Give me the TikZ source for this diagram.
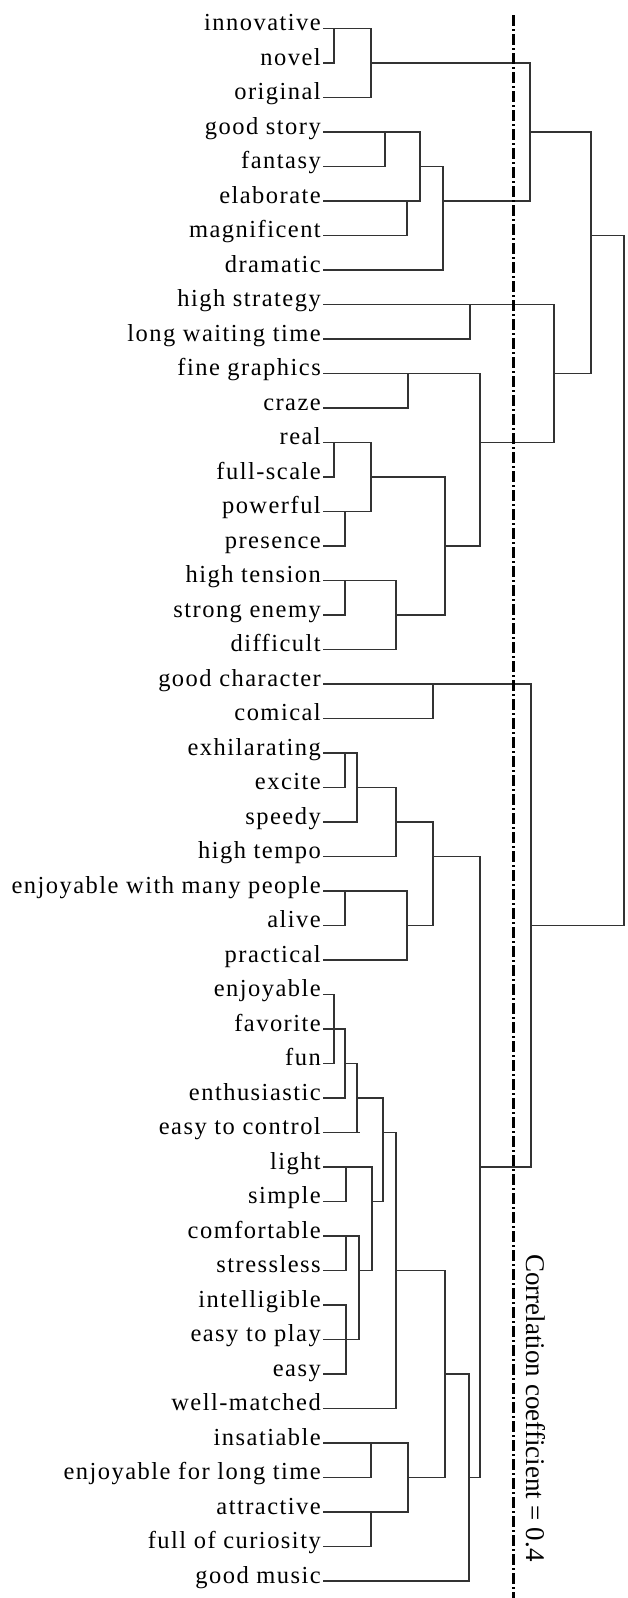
\documentclass[tikz,border=0pt]{standalone}
\usepackage{fontspec}
\setmainfont{Liberation Serif}
\newfontfamily\lblfont[LetterSpace=6]{Liberation Serif}
\begin{document}
\begin{tikzpicture}[x=1pt,y=-1pt,
  declare function={rr(\i)=28.3+(\i-1)*34.5;},
  ln/.style={draw=black!80, line width=1.6pt, line cap=rect},
  lbl/.style={anchor=mid east, inner xsep=3pt, inner ysep=0pt, font=\lblfont\fontsize{24.5}{24.5}\selectfont},
  cutline/.style={draw=black, line width=3pt, dash pattern=on 11pt off 3pt on 2pt off 3pt}]
\useasboundingbox (0,0) rectangle (628,1598);
% leaves
\foreach \i/\t in {1/innovative,2/novel,3/original,4/good story,5/fantasy,6/elaborate,7/magnificent,8/dramatic,
  9/high strategy,10/long waiting time,11/fine graphics,12/craze,13/real,14/full-scale,15/powerful,16/presence,
  17/high tension,18/strong enemy,19/difficult,20/good character,21/comical,22/exhilarating,23/excite,24/speedy,
  25/high tempo,26/enjoyable with many people,27/alive,28/practical,29/enjoyable,30/favorite,31/fun,
  32/enthusiastic,33/easy to control,34/light,35/simple,36/comfortable,37/stressless,38/intelligible,
  39/easy to play,40/easy,41/well-matched,42/insatiable,43/enjoyable for long time,44/attractive,
  45/full of curiosity,46/good music}
  \node[lbl] (l\i) at (324,{rr(\i)}) {\t};
% leaf lines
\foreach \i/\x in {1/371,2/334,3/371,4/420,5/385,6/420,7/407,8/443,9/554,10/470,11/480,12/408,13/371,14/334,
  15/371,16/345,17/396,18/345,19/396,20/531,21/433,22/357,23/345,24/357,25/396,26/407,27/345,28/407,
  29/334,30/345,31/334,32/345,33/359,34/372,35/346,36/359,37/346,38/346,39/359,40/346,41/396,
  42/408,43/371,44/408,45/371,46/469}
  \draw[ln] (l\i.mid east) -- (\x,{rr(\i)});
% vertical joins
\foreach \x/\a/\b in {334/1/2,371/1/3,385/4/5,420/4/6,407/6/7,443/5/8,530/2/6,591/4/11,624/7/27,
  470/9/10,554/9/13,408/11/12,480/11/16,334/13/14,371/13/15,345/15/16,445/14/18,345/17/18,396/17/19,
  433/20/21,531/20/34,345/22/23,357/22/24,396/23/25,433/24/27,345/26/27,407/26/28,480/25/43,
  334/29/31,345/30/32,357/31/33,383/32/35,396/33/41,346/34/35,372/34/37,346/36/37,359/36/39,
  346/38/40,445/37/43,469/40/46,371/42/43,408/42/44,371/44/45}
  \draw[ln] (\x,{rr(\a)}) -- (\x,{rr(\b)});
% horizontal links
\foreach \r/\a/\b in {2/371/530,6/443/530,4/530/591,7/591/624,5/420/443,11/554/591,13/480/554,
  14/371/445,16/445/480,18/396/445,27/531/624,23/357/396,24/396/433,27/407/433,25/433/480,
  34/480/531,31/345/357,32/357/383,35/372/383,37/359/372,33/383/396,37/396/445,40/445/469,
  43/469/480,43/408/445}
  \draw[ln] (\a,{rr(\r)}) -- (\b,{rr(\r)});
% threshold line
\coordinate (ctop) at (513,15);
\coordinate (cbot) at (513,1598);
\draw[cutline] (ctop) -- (cbot);
\node[rotate=-90, inner sep=0pt, font=\fontsize{27}{27}\selectfont] (cc) at (536,1408) {Correlation coefficient = 0.4};
\end{tikzpicture}
\end{document}
